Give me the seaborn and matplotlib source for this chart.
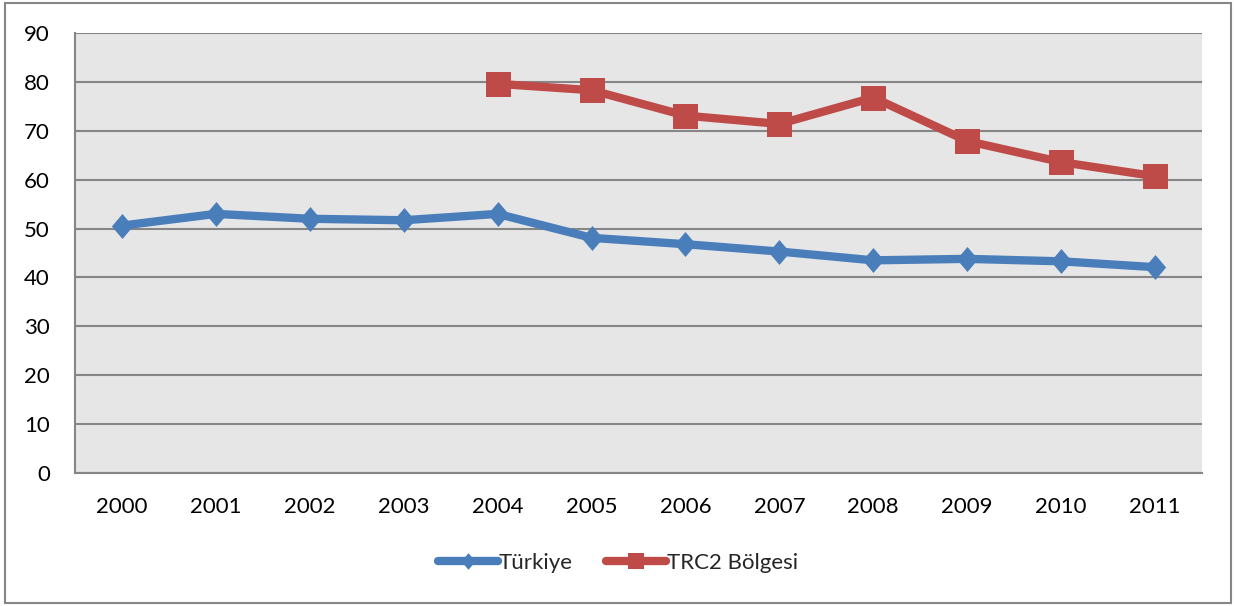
import pandas as pd
import numpy as np
import matplotlib
matplotlib.use("Agg")
import matplotlib.pyplot as plt
import seaborn as sns
from matplotlib.patches import Rectangle
from matplotlib.lines import Line2D

years = [2000, 2001, 2002, 2003, 2004, 2005, 2006, 2007, 2008, 2009, 2010, 2011]
turkiye = [50.6, 53.0, 52.0, 51.7, 53.0, 48.1, 46.8, 45.3, 43.5, 43.8, 43.3, 42.1]
trc2 = [np.nan, np.nan, np.nan, np.nan, 79.6, 78.3, 73.1, 71.4, 76.8, 67.9, 63.6, 60.7]
series_names = ["Türkiye", "TRC2 Bölgesi"]
colors = ["#4A7EBB", "#BE4B48"]

df = pd.DataFrame({"Yıl": years, series_names[0]: turkiye, series_names[1]: trc2})
long = df.melt(id_vars="Yıl", var_name="Seri", value_name="Değer").dropna()

sns.set_style("white")
plt.rcParams["font.family"] = ["Lato", "DejaVu Sans"]

# Excel-style diamond, a bit narrower than tall
diamond = np.array([[0, 1], [0.85, 0], [0, -1], [-0.85, 0], [0, 1]])
marker_map = {series_names[0]: diamond, series_names[1]: "s"}

fig = plt.figure(figsize=(12.34, 6.06), dpi=100)
ax = fig.add_axes([75 / 1234, 133 / 606, 1127 / 1234, 440 / 606])
ax.set_facecolor("#E6E6E6")

sns.lineplot(data=long, x="Yıl", y="Değer", hue="Seri", style="Seri",
             hue_order=series_names, style_order=series_names,
             palette=colors, markers=marker_map, dashes=False,
             linewidth=6, markersize=18, markeredgewidth=0, ax=ax,
             legend=False)

ax.set_xlim(1999.5, 2011.5)
ax.set_ylim(0, 90)
ax.set_xticks(years)
ax.set_xticklabels([str(y) for y in years])
ax.set_yticks(range(0, 91, 10))
ax.yaxis.grid(True, color="#868686", linewidth=1.5)
ax.set_axisbelow(True)
ax.tick_params(axis="both", length=0, labelsize=16, colors="black")
ax.tick_params(axis="x", pad=17)
ax.tick_params(axis="y", pad=18)
ax.set_xlabel("")
ax.set_ylabel("")
for side in ["top", "right"]:
    ax.spines[side].set_visible(False)
for side in ["left", "bottom"]:
    ax.spines[side].set_color("#868686")
    ax.spines[side].set_linewidth(1.5)

handles = [Line2D([], [], color=c, marker=m, linewidth=6, markersize=12,
                  markeredgewidth=0, solid_capstyle="round")
           for c, m in zip(colors, [diamond, "s"])]
ax.legend(handles, series_names, loc="center", bbox_to_anchor=(0.482, -0.205),
          ncol=2, frameon=False, fontsize=16, handlelength=2.7,
          handletextpad=0.05, columnspacing=1.5)

fig.patches.append(Rectangle((5 / 1234, 3 / 606), 1226 / 1234, 600 / 606,
                             transform=fig.transFigure, fill=False,
                             edgecolor="#868686", linewidth=1.5))

fig.savefig("out.png", dpi=100)
